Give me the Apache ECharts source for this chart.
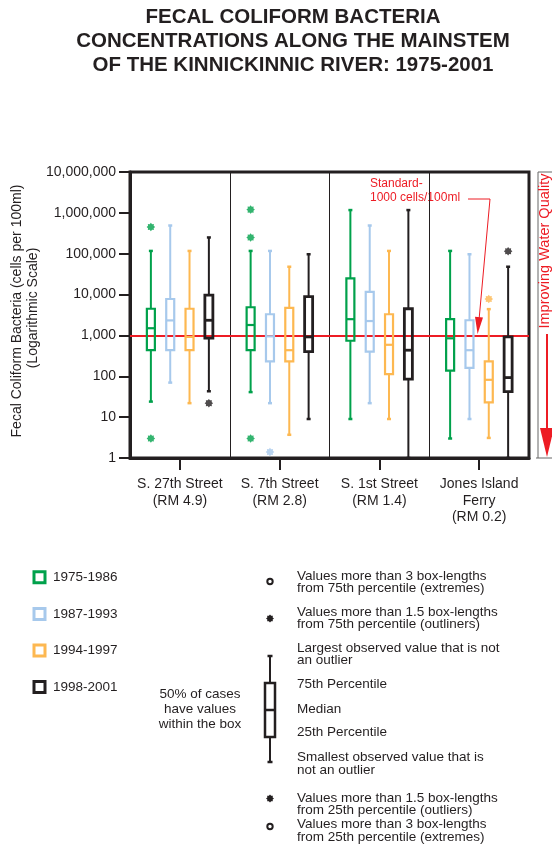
<!DOCTYPE html>
<html><head><meta charset="utf-8">
<script src="https://cdn.jsdelivr.net/npm/echarts@6/dist/echarts.min.js"></script>
<style>html,body{margin:0;padding:0;background:#fff}#c{width:552px;height:847px}</style>
</head><body><div id="c"></div>
<script>
// ---------- data ----------
const categories = ['S. 27th Street\n(RM 4.9)', 'S. 7th Street\n(RM 2.8)', 'S. 1st Street\n(RM 1.4)', 'Jones Island\nFerry\n(RM 0.2)'];
const periods = ['1975-1986', '1987-1993', '1994-1997', '1998-2001'];
const yTicks = [1, 10, 100, 1000, 10000, 100000, 1000000, 10000000];
const standardValue = 1000;
// each row: [low whisker, 25th, median, 75th, high whisker] for one site
const box1975 = [[24, 435, 1500, 4500, 117000], [41, 435, 1800, 4900, 117000], [9, 740, 2500, 25000, 1170000], [3, 138, 850, 2500, 117000]];
const box1987 = [[70, 435, 2330, 7800, 490000], [22, 233, 950, 3300, 117000], [22, 400, 2250, 11700, 490000], [9, 160, 435, 2350, 97000]];
const box1994 = [[22, 435, 920, 4500, 117000], [3.7, 233, 435, 4700, 48000], [9, 113, 590, 3300, 117000], [3.1, 23, 82, 233, 4400]];
const box1998 = [[43, 860, 2350, 9700, 250000], [9, 400, 920, 8900, 97000], [1, 85, 435, 4500, 1170000], [1, 42, 93, 920, 48000]];
// outliers: [site index, value]
const out1975 = [[0, 450000], [0, 3], [1, 1200000], [1, 250000], [1, 3]];
const out1987 = [[1, 1.4]];
const out1994 = [[3, 7800]];
const out1998 = [[0, 22], [3, 115000]];

// ---------- styles ----------
const colors = ['#00a14b', '#a7c9ec', '#fdb851', '#231f20'];
const boxLW = [2.2, 2.2, 2.2, 2.8];
const offsets = [-29, -9.65, 9.65, 29];
const FONT = '"Liberation Sans", Arial, Helvetica, sans-serif';
const TXT = '#231f20';
const RED = '#ed1c24';

function starPoints(cx, cy, r1, r2) {
  const pts = [];
  for (let i = 0; i < 16; i++) {
    const a = Math.PI * i / 8 - Math.PI / 2;
    const r = i % 2 ? r2 : r1;
    pts.push([cx + r * Math.cos(a), cy + r * Math.sin(a)]);
  }
  return pts;
}
const starSymbol = 'path://' + starPoints(50, 50, 50, 36).map((p, i) => (i ? 'L' : 'M') + p[0].toFixed(1) + ',' + p[1].toFixed(1)).join('') + 'Z';

function boxRender(idx) {
  const color = colors[idx], lw = boxLW[idx], off = offsets[idx];
  return function (params, api) {
    const c = api.value(0);
    const cx = api.coord([c, 1])[0] + off;
    const y = i => api.coord([c, api.value(i)])[1];
    const yLo = y(1), yQ1 = y(2), yMed = y(3), yQ3 = y(4), yHi = y(5);
    const hw = 4, cap = 2;
    return {
      type: 'group', children: [
        { type: 'line', shape: { x1: cx, y1: yHi, x2: cx, y2: yQ3 }, style: { stroke: color, lineWidth: 2 } },
        { type: 'line', shape: { x1: cx, y1: yQ1, x2: cx, y2: yLo }, style: { stroke: color, lineWidth: 2 } },
        { type: 'line', shape: { x1: cx - cap, y1: yHi, x2: cx + cap, y2: yHi }, style: { stroke: color, lineWidth: 2.5 } },
        { type: 'line', shape: { x1: cx - cap, y1: yLo, x2: cx + cap, y2: yLo }, style: { stroke: color, lineWidth: 2.5 } },
        { type: 'rect', shape: { x: cx - hw, y: yQ3, width: 2 * hw, height: yQ1 - yQ3 }, style: { stroke: color, lineWidth: lw, fill: 'rgba(0,0,0,0)' } },
        { type: 'line', shape: { x1: cx - hw, y1: yMed, x2: cx + hw, y2: yMed }, style: { stroke: color, lineWidth: lw } }
      ]
    };
  };
}

const boxes = [box1975, box1987, box1994, box1998];
const outs = [out1975, out1987, out1994, out1998];
const series = [];
boxes.forEach((b, i) => {
  series.push({
    type: 'custom', name: periods[i], z: 3,
    renderItem: boxRender(i),
    encode: { x: 0, y: [1, 2, 3, 4, 5] },
    data: b.map((r, k) => [k].concat(r)),
    silent: true
  });
});
outs.forEach((o, i) => {
  const s = {
    type: 'scatter', name: periods[i], z: 4,
    symbol: starSymbol, symbolSize: 8.5, symbolOffset: [offsets[i], 0],
    itemStyle: { color: colors[i] },
    data: o, silent: true
  };
  if (i === 0) {
    s.markLine = {
      silent: true, symbol: ['none', 'none'], z: 1,
      label: { show: false },
      lineStyle: { color: RED, width: 2, type: 'solid' },
      data: [{ yAxis: standardValue }]
    };
  }
  series.push(s);
});

function textG(x, y, text, opt) {
  return Object.assign({
    type: 'text', x: x, y: y, silent: true,
    style: Object.assign({ text: text, fill: TXT, font: '13.5px ' + FONT, align: 'left', verticalAlign: 'middle' }, opt || {})
  });
}

const LX = 297;
const legendTextOpt = { fontSize: 13.5, fontFamily: FONT, lineHeight: 12.3 };
const graphics = [
  // title
  { type: 'text', x: 293, y: 41.5, silent: true, style: { text: 'FECAL COLIFORM BACTERIA\nCONCENTRATIONS ALONG THE MAINSTEM\nOF THE KINNICKINNIC RIVER: 1975-2001', fill: TXT, fontSize: 20.5, fontWeight: 'bold', fontFamily: FONT, lineHeight: 24.2, align: 'center', verticalAlign: 'middle' } },
  // y axis name
  { type: 'text', x: 17, y: 311, rotation: Math.PI / 2, silent: true, style: { text: 'Fecal Coliform Bacteria (cells per 100ml)', fill: TXT, fontSize: 14, fontFamily: FONT, align: 'center', verticalAlign: 'middle' } },
  { type: 'text', x: 33, y: 308, rotation: Math.PI / 2, silent: true, style: { text: '(Logarithmic Scale)', fill: TXT, fontSize: 14, fontFamily: FONT, align: 'center', verticalAlign: 'middle' } },
  // right quality scale
  { type: 'line', silent: true, shape: { x1: 538, y1: 172, x2: 538, y2: 458 }, style: { stroke: '#666', lineWidth: 1 } },
  { type: 'line', silent: true, shape: { x1: 538, y1: 172, x2: 552, y2: 172 }, style: { stroke: '#666', lineWidth: 1 } },
  { type: 'line', silent: true, shape: { x1: 536, y1: 458, x2: 552, y2: 458 }, style: { stroke: '#666', lineWidth: 1 } },
  { type: 'text', x: 545, y: 251, rotation: Math.PI / 2, silent: true, style: { text: 'Improving Water Quality', fill: RED, fontSize: 14.5, fontFamily: FONT, align: 'center', verticalAlign: 'middle' } },
  { type: 'line', silent: true, shape: { x1: 547, y1: 334, x2: 547, y2: 432 }, style: { stroke: RED, lineWidth: 2 } },
  { type: 'polygon', silent: true, shape: { points: [[540, 428], [554, 428], [547, 457]] }, style: { fill: RED } },
  // standard annotation
  { type: 'text', x: 370, y: 190.5, silent: true, style: { text: 'Standard-\n1000 cells/100ml', fill: RED, fontSize: 12, fontFamily: FONT, lineHeight: 13.7, align: 'left', verticalAlign: 'middle' } },
  { type: 'polyline', silent: true, shape: { points: [[468, 199], [490, 199], [479.2, 318]] }, style: { stroke: RED, lineWidth: 1, fill: null } },
  { type: 'polygon', silent: true, shape: { points: [[483, 317.4], [475, 316.7], [477.6, 334]] }, style: { fill: RED } },
  // box explanation
  { type: 'circle', silent: true, shape: { cx: 270, cy: 581.5, r: 2.7 }, style: { stroke: TXT, lineWidth: 2, fill: '#fff' } },
  { type: 'polygon', silent: true, shape: { points: starPoints(270, 618.5, 4, 2.9) }, style: { fill: TXT } },
  { type: 'line', silent: true, shape: { x1: 267.5, y1: 656, x2: 272.5, y2: 656 }, style: { stroke: TXT, lineWidth: 2.5 } },
  { type: 'line', silent: true, shape: { x1: 270, y1: 656, x2: 270, y2: 683 }, style: { stroke: TXT, lineWidth: 2 } },
  { type: 'rect', silent: true, shape: { x: 265, y: 683, width: 10, height: 54 }, style: { stroke: TXT, lineWidth: 2.5, fill: 'rgba(0,0,0,0)' } },
  { type: 'line', silent: true, shape: { x1: 265, y1: 710, x2: 275, y2: 710 }, style: { stroke: TXT, lineWidth: 2.5 } },
  { type: 'line', silent: true, shape: { x1: 270, y1: 737, x2: 270, y2: 762 }, style: { stroke: TXT, lineWidth: 2 } },
  { type: 'line', silent: true, shape: { x1: 267.5, y1: 762, x2: 272.5, y2: 762 }, style: { stroke: TXT, lineWidth: 2.5 } },
  { type: 'polygon', silent: true, shape: { points: starPoints(270, 798.5, 4, 2.9) }, style: { fill: TXT } },
  { type: 'circle', silent: true, shape: { cx: 270, cy: 826.5, r: 2.7 }, style: { stroke: TXT, lineWidth: 2, fill: '#fff' } },
  textG(LX, 582.2, 'Values more than 3 box-lengths\nfrom 75th percentile (extremes)', legendTextOpt),
  textG(LX, 618.2, 'Values more than 1.5 box-lengths\nfrom 75th percentile (outliners)', legendTextOpt),
  textG(LX, 654.2, 'Largest observed value that is not\nan outlier', legendTextOpt),
  textG(LX, 684.3, '75th Percentile', legendTextOpt),
  textG(LX, 709, 'Median', legendTextOpt),
  textG(LX, 732.7, '25th Percentile', legendTextOpt),
  textG(LX, 763.8, 'Smallest observed value that is\nnot an outlier', legendTextOpt),
  textG(LX, 804.2, 'Values more than 1.5 box-lengths\nfrom 25th percentile (outliers)', legendTextOpt),
  textG(LX, 830.8, 'Values more than 3 box-lengths\nfrom 25th percentile (extremes)', legendTextOpt),
  textG(200, 709, '50% of cases\nhave values\nwithin the box', { fontSize: 13.5, fontFamily: FONT, lineHeight: 15, align: 'center' })
];

const chart = echarts.init(document.getElementById('c'), null, { renderer: 'canvas' });
chart.setOption({
  animation: false,
  backgroundColor: '#fff',
  textStyle: { fontFamily: FONT, color: TXT },
  grid: { left: 130, right: 23, top: 172, bottom: 389, show: true, borderColor: TXT, borderWidth: 3, backgroundColor: 'rgba(0,0,0,0)' },
  legend: {
    orient: 'vertical', left: 27.5, top: 565.3, itemGap: 22.6, itemWidth: 11, itemHeight: 11, selectedMode: false,
    icon: 'rect',
    textStyle: { fontSize: 13.5, fontFamily: FONT, color: TXT, padding: [0, 0, 0, 3] },
    data: periods.map((p, i) => ({ name: p, icon: 'rect', itemStyle: { color: '#fff', borderColor: colors[i], borderWidth: 3 } }))
  },
  xAxis: {
    type: 'category', data: categories, boundaryGap: true,
    axisLine: { show: true, lineStyle: { color: TXT, width: 3 } },
    axisTick: { show: true, alignWithLabel: true, length: 12, lineStyle: { color: TXT, width: 2 } },
    axisLabel: { interval: 0, fontSize: 14, lineHeight: 16.5, margin: 18, color: TXT, fontFamily: FONT },
    splitLine: { show: true, interval: 0, lineStyle: { color: TXT, width: 1 } }
  },
  yAxis: {
    type: 'log', logBase: 10, min: yTicks[0], max: yTicks[yTicks.length - 1], interval: 1,
    axisLine: { show: true, lineStyle: { color: TXT, width: 3 } },
    axisTick: { show: true, length: 11, lineStyle: { color: TXT, width: 2 } },
    axisLabel: { fontSize: 14, margin: 14, color: TXT, fontFamily: FONT, formatter: v => Math.round(v).toLocaleString('en-US') },
    splitLine: { show: false }
  },
  series: series,
  graphic: graphics
});
</script></body></html>
